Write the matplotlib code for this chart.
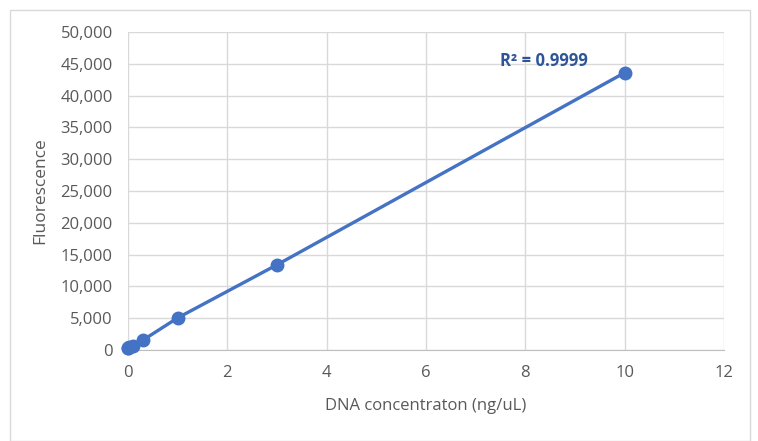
import matplotlib
matplotlib.use('Agg')
import matplotlib.pyplot as plt
from matplotlib.patches import Rectangle
from matplotlib.ticker import FuncFormatter

# standard curve values
conc = [0, 0.01, 0.03, 0.1, 0.3, 1, 3, 10]
fluor = [300, 350, 450, 650, 1550, 5050, 13400, 43600]
r2_text = 'R² = 0.9999'

blue = '#4472C4'
grey_txt = '#595959'

plt.rcParams['font.family'] = ['Open Sans', 'DejaVu Sans']

fig = plt.figure(figsize=(7.58, 4.41), dpi=100)
fig.patches.append(Rectangle((10/758, 0.0), 740/758, 431/441, transform=fig.transFigure,
                             fill=False, edgecolor='#d9d9d9', linewidth=1))

ax = fig.add_axes([128/758, 91/441, 596/758, 318/441])
ax.plot(conc, fluor, color=blue, linewidth=2.4, marker='o', markersize=9,
        zorder=3, clip_on=False)

ax.set_xlim(0, 12)
ax.set_ylim(0, 50000)
ax.set_xticks(range(0, 13, 2))
ax.set_yticks(range(0, 50001, 5000))
ax.yaxis.set_major_formatter(FuncFormatter(lambda v, p: f'{int(v):,}'))
ax.grid(True, color='#d9d9d9', linewidth=1)
ax.set_axisbelow(True)
for s in ['top', 'right', 'left']:
    ax.spines[s].set_visible(False)
ax.spines['bottom'].set_color('#bfbfbf')
ax.tick_params(axis='y', length=0, labelsize=12, colors=grey_txt, pad=11)
ax.tick_params(axis='x', length=0, labelsize=12, colors=grey_txt, pad=11)

ax.set_xlabel('DNA concentraton (ng/uL)', fontsize=12, color=grey_txt, labelpad=12)
ax.set_ylabel('Fluorescence', fontsize=12.5, color=grey_txt, labelpad=9)

ax.text(7.48, 45500, r2_text, color='#2F5597', fontsize=12, fontweight='bold', va='center')

fig.savefig('out.png', dpi=100)
